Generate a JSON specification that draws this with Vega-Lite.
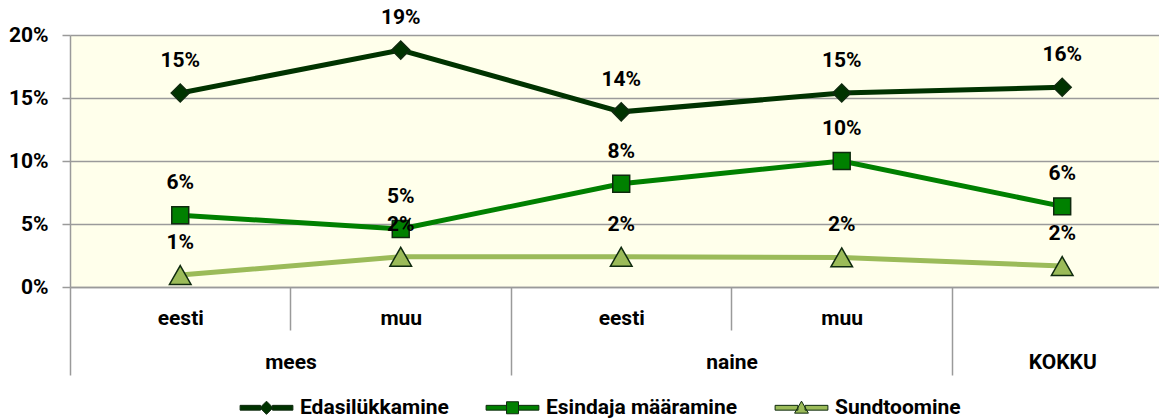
{
  "$schema": "https://vega.github.io/schema/vega-lite/v6.json",
  "width": 1089,
  "height": 252,
  "autosize": {"type": "none"},
  "padding": {"left": 70, "top": 35, "right": 0, "bottom": 133},
  "background": "white",
  "config": {
    "view": {"fill": "#FFFFEB", "stroke": null},
    "font": "Roboto",
    "axis": {
      "labelFont": "Roboto",
      "labelFontSize": 21,
      "labelFontWeight": "bold",
      "labelColor": "#000000",
      "domainColor": "#9a9a9a",
      "tickColor": "#9a9a9a",
      "gridColor": "#9a9a9a",
      "domainWidth": 1.5,
      "tickWidth": 1.5,
      "gridWidth": 1.5
    }
  },
  "data": {
    "values": [
      {"idx": 0, "grp": "mees", "sub": "eesti", "series": "Edasilükkamine", "v": 0.154},
      {"idx": 1, "grp": "mees", "sub": "muu", "series": "Edasilükkamine", "v": 0.188},
      {"idx": 2, "grp": "naine", "sub": "eesti", "series": "Edasilükkamine", "v": 0.139},
      {"idx": 3, "grp": "naine", "sub": "muu", "series": "Edasilükkamine", "v": 0.154},
      {"idx": 4, "grp": "KOKKU", "sub": "", "series": "Edasilükkamine", "v": 0.1585},
      {"idx": 0, "grp": "mees", "sub": "eesti", "series": "Esindaja määramine", "v": 0.057},
      {"idx": 1, "grp": "mees", "sub": "muu", "series": "Esindaja määramine", "v": 0.046},
      {"idx": 2, "grp": "naine", "sub": "eesti", "series": "Esindaja määramine", "v": 0.082},
      {"idx": 3, "grp": "naine", "sub": "muu", "series": "Esindaja määramine", "v": 0.1},
      {"idx": 4, "grp": "KOKKU", "sub": "", "series": "Esindaja määramine", "v": 0.064},
      {"idx": 0, "grp": "mees", "sub": "eesti", "series": "Sundtoomine", "v": 0.0095},
      {"idx": 1, "grp": "mees", "sub": "muu", "series": "Sundtoomine", "v": 0.024},
      {"idx": 2, "grp": "naine", "sub": "eesti", "series": "Sundtoomine", "v": 0.024},
      {"idx": 3, "grp": "naine", "sub": "muu", "series": "Sundtoomine", "v": 0.0235},
      {"idx": 4, "grp": "KOKKU", "sub": "", "series": "Sundtoomine", "v": 0.0167}
    ]
  },
  "encoding": {
    "y": {
      "field": "v",
      "type": "quantitative",
      "scale": {"domain": [0, 0.2], "nice": false, "zero": true},
      "axis": {
        "values": [0, 0.05, 0.1, 0.15, 0.2],
        "format": ".0%",
        "grid": true,
        "tickSize": 8,
        "labelPadding": 14,
        "domain": true,
        "title": null
      }
    }
  },
  "layer": [
    {
      "mark": {"type": "line", "strokeWidth": 5},
      "encoding": {
        "x": {
          "field": "idx",
          "type": "quantitative",
          "scale": {"domain": [-0.5, 4.439], "nice": false, "zero": false},
          "axis": {
            "orient": "bottom",
            "values": [0, 1, 2, 3],
            "labelExpr": "['eesti','muu','eesti','muu'][datum.value]",
            "ticks": false,
            "domain": true,
            "grid": false,
            "labelPadding": 20,
            "labelFlush": false,
            "labelOverlap": false,
            "labelBound": false,
            "title": null
          }
        },
        "color": {
          "field": "series",
          "type": "nominal",
          "scale": {"domain": ["Edasilükkamine", "Esindaja määramine", "Sundtoomine"], "range": ["#003300", "#008000", "#9BBB59"]},
          "legend": null
        }
      }
    },
    {
      "mark": {"type": "point", "filled": true, "size": 324, "stroke": "#0f2a0f", "strokeWidth": 1.5, "opacity": 1},
      "encoding": {
        "x": {
          "field": "idx",
          "type": "quantitative",
          "scale": {"domain": [-0.5, 4.439], "nice": false, "zero": false},
          "axis": {
            "orient": "bottom",
            "values": [0.5, 2.5, 4],
            "labelExpr": "datum.value == 0.5 ? 'mees' : datum.value == 2.5 ? 'naine' : 'KOKKU'",
            "ticks": false,
            "domain": false,
            "grid": false,
            "labelPadding": 64,
            "labelFlush": false,
            "labelOverlap": false,
            "labelBound": false,
            "title": null
          }
        },
        "shape": {
          "field": "series",
          "type": "nominal",
          "scale": {
            "domain": ["Edasilükkamine", "Esindaja määramine", "Sundtoomine"],
            "range": ["M-1,0L0,-1L1,0L0,1Z", "M-0.94,-0.94H0.94V0.94H-0.94Z", "M0,-1.05L1.2,1.05L-1.2,1.05Z"]
          },
          "legend": null
        },
        "fill": {
          "field": "series",
          "type": "nominal",
          "scale": {"domain": ["Edasilükkamine", "Esindaja määramine", "Sundtoomine"], "range": ["#003300", "#008000", "#9BBB59"]},
          "legend": null
        }
      }
    },
    {
      "mark": {"type": "text", "dy": -26, "baseline": "alphabetic", "align": "center", "font": "Roboto", "fontSize": 21, "fontWeight": "bold", "color": "#000000"},
      "encoding": {
        "x": {
          "field": "idx",
          "type": "quantitative",
          "scale": {"domain": [-0.5, 4.439], "nice": false, "zero": false},
          "axis": {
            "orient": "bottom",
            "values": [-0.5, 1.5, 3.5],
            "labels": false,
            "ticks": true,
            "tickSize": 88,
            "domain": false,
            "grid": false,
            "title": null
          }
        },
        "text": {"field": "v", "type": "quantitative", "format": ".0%"}
      }
    },
    {
      "transform": [{"filter": "false"}],
      "mark": {"type": "point", "filled": true, "stroke": "#0f2a0f", "strokeWidth": 1, "opacity": 1},
      "encoding": {
        "x": {
          "field": "idx",
          "type": "quantitative",
          "scale": {"domain": [-0.5, 4.439], "nice": false, "zero": false},
          "axis": {
            "orient": "bottom",
            "values": [0.5, 2.5],
            "labels": false,
            "ticks": true,
            "tickSize": 43,
            "domain": false,
            "grid": false,
            "title": null
          }
        },
        "shape": {
          "field": "series",
          "type": "nominal",
          "scale": {
            "domain": ["Edasilükkamine", "Esindaja määramine", "Sundtoomine"],
            "range": [
              "M-4.4,-0.4H-1V0.4H-4.4Z M1,-0.4H4.4V0.4H1Z M-1.1,0L0,-1.1L1.1,0L0,1.1Z",
              "M-4.4,-0.4H-1V0.4H-4.4Z M1,-0.4H4.4V0.4H1Z M-1,-1H1V1H-1Z",
              "M-4.4,-0.4H-0.6V0.4H-4.4Z M0.6,-0.4H4.4V0.4H0.6Z M0,-1.1L1.15,0.9L-1.15,0.9Z"
            ]
          },
          "legend": {
            "orient": "none", "legendX": 186, "legendY": 362, "direction": "horizontal", "title": null,
            "symbolSize": 144, "symbolStrokeWidth": 1, "symbolOpacity": 1,
            "labelFont": "Roboto", "labelFontSize": 21, "labelFontWeight": "bold", "labelColor": "#000000",
            "labelOffset": 23, "columnPadding": 35, "labelLimit": 0
          }
        },
        "fill": {
          "field": "series",
          "type": "nominal",
          "scale": {"domain": ["Edasilükkamine", "Esindaja määramine", "Sundtoomine"], "range": ["#003300", "#008000", "#9BBB59"]},
          "legend": {
            "orient": "none", "legendX": 186, "legendY": 362, "direction": "horizontal", "title": null,
            "symbolSize": 144, "symbolStrokeWidth": 1, "symbolOpacity": 1,
            "labelFont": "Roboto", "labelFontSize": 21, "labelFontWeight": "bold", "labelColor": "#000000",
            "labelOffset": 23, "columnPadding": 35, "labelLimit": 0
          }
        }
      }
    }
  ],
  "resolve": {
    "axis": {"x": "independent"},
    "scale": {"shape": "independent", "fill": "independent"}
  }
}
